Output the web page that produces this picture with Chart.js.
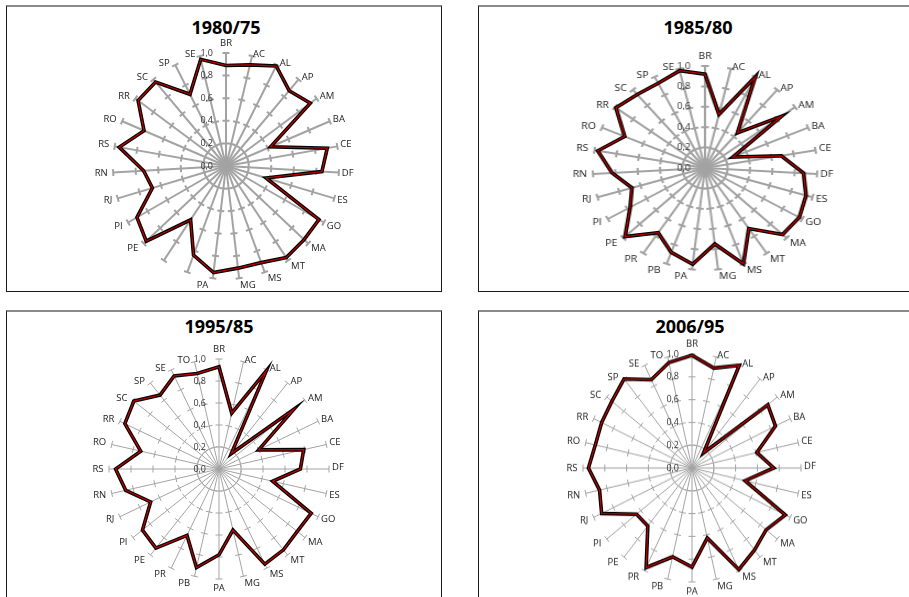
<!DOCTYPE html>
<html>
<head>
<meta charset="utf-8">
<script src="https://cdn.jsdelivr.net/npm/chart.js@4.4.1/dist/chart.umd.min.js"></script>
<style>
  html, body { margin: 0; padding: 0; background: #fff; }
  body { width: 909px; height: 597px; position: relative; overflow: hidden; font-family: "Open Sans", sans-serif; }
  .box { position: absolute; box-sizing: border-box; border: 1px solid #1a1a1a; border-top: 2px solid #8a8a8a; }
  .title { position: absolute; font-weight: 700; font-size: 18px; color: #000; transform: translate(-50%, -50%); white-space: nowrap; }
  canvas { position: absolute; }
</style>
</head>
<body>
<div class="box" style="left:6px;top:5px;width:436px;height:287px"></div>
<div class="box" style="left:478px;top:5px;width:450px;height:287px"></div>
<div class="box" style="left:6px;top:310px;width:436px;height:300px"></div>
<div class="box" style="left:478px;top:310px;width:450px;height:300px"></div>

<div class="title" style="left:226px;top:27px">1980/75</div>
<div class="title" style="left:698px;top:27px">1985/80</div>
<div class="title" style="left:219px;top:326px">1995/85</div>
<div class="title" style="left:690px;top:326px">2006/95</div>

<canvas id="c8075" width="320" height="300"></canvas>
<canvas id="c8580" width="320" height="300"></canvas>
<canvas id="c9585" width="320" height="300"></canvas>
<canvas id="c0695" width="320" height="300"></canvas>

<script>
// states, clockwise from the top
const states27 = ['BR', 'AC', 'AL', 'AP', 'AM', 'BA', 'CE', 'DF', 'ES', 'GO', 'MA', 'MT', 'MS', 'MG',
  'PA', 'PB', 'PR', 'PE', 'PI', 'RJ', 'RN', 'RS', 'RO', 'RR', 'SC', 'SP', 'SE'];
const states28 = ['BR', 'AC', 'AL', 'AP', 'AM', 'BA', 'CE', 'DF', 'ES', 'GO', 'MA', 'MT', 'MS', 'MG',
  'PA', 'PB', 'PR', 'PE', 'PI', 'RJ', 'RN', 'RS', 'RO', 'RR', 'SC', 'SP', 'SE', 'TO'];

const values8075 = [0.89, 0.92, 0.99, 0.87, 0.93, 0.43, 0.91, 0.85, 0.37, 0.95, 0.95, 0.97, 0.91, 0.91,
  0.95, 0.84, 0.57, 0.97, 0.91, 0.68, 0.73, 0.96, 0.79, 0.97, 0.97, 0.71, 0.97];
const values8580 = [0.92, 0.54, 1.0, 0.45, 0.85, 0.27, 0.69, 0.88, 0.94, 0.97, 0.95, 0.71, 1.0, 0.75,
  0.95, 0.88, 0.76, 0.98, 0.77, 0.68, 0.83, 0.97, 0.78, 0.99, 0.94, 0.93, 0.98];
const values9585 = [0.93, 0.52, 0.99, 0.18, 0.87, 0.40, 0.79, 0.74, 0.50, 0.93, 0.91, 0.94, 0.96, 0.57,
  0.78, 0.92, 0.67, 0.92, 0.89, 0.69, 0.87, 0.94, 0.73, 0.95, 0.99, 0.86, 0.94, 0.89];
const values0695 = [0.99, 0.90, 1.0, 0.17, 0.89, 0.85, 0.61, 0.75, 0.50, 0.95, 0.87, 0.92, 0.99, 0.63,
  0.87, 0.80, 0.97, 0.65, 0.65, 0.92, 0.87, 0.95, 0.91, 0.92, 0.94, 1.0, 0.86, 0.95];

const tickValues = [0, 0.2, 0.4, 0.6, 0.8, 1.0];
// labels that don't show on the first chart
const unlabeled8075 = ['PB', 'PR'];

// cross ticks on every spoke, the 0,0..1,0 numbers next to the BR spoke,
// and the state names sitting beside the spoke ends
const spokeTicks = {
  id: 'spokeTicks',
  beforeDatasetsDraw(chart, args, opts) {
    const r = chart.scales.r;
    const ctx = chart.ctx;
    const labels = chart.data.labels;
    ctx.save();
    ctx.strokeStyle = opts.color;
    ctx.lineWidth = opts.width;
    ctx.beginPath();
    labels.forEach((label, i) => {
      const a = r.getIndexAngle(i) - Math.PI / 2;
      const nx = -Math.sin(a), ny = Math.cos(a);
      tickValues.slice(1).forEach(v => {
        const p = r.getPointPositionForValue(i, v);
        ctx.moveTo(p.x - nx * opts.half, p.y - ny * opts.half);
        ctx.lineTo(p.x + nx * opts.half, p.y + ny * opts.half);
      });
    });
    ctx.stroke();

    ctx.fillStyle = '#333';
    ctx.font = '9px "Open Sans"';
    ctx.textAlign = 'right';
    ctx.textBaseline = 'middle';
    tickValues.forEach(v => {
      const y = r.yCenter - r.getDistanceFromCenterForValue(v);
      ctx.fillText(v.toFixed(1).replace('.', ','), r.xCenter - 13, y);
    });

    ctx.fillStyle = '#222';
    ctx.font = '9.5px "Open Sans"';
    ctx.textAlign = 'center';
    const h = 11;
    labels.forEach((label, i) => {
      if ((opts.hidden || []).includes(label)) return;
      const a = r.getIndexAngle(i);
      const s = Math.sin(a), c = Math.cos(a);
      const p = r.getPointPositionForValue(i, tickValues[tickValues.length - 1]);
      const w = ctx.measureText(label).width;
      let x = p.x, y = p.y;
      if (Math.abs(s) < 0.05) {
        y += c > 0 ? -(h / 2 + 4) : (h / 2 + 4);
      } else {
        const steep = Math.abs(s) < 0.3;
        const gap = s > 0 ? (steep ? 1 : 3) : (steep ? 4.5 : 5.5);
        x += Math.sign(s) * (w / 2 + gap);
        y += c > 0 ? -1.8 : -c * 7;
      }
      ctx.fillText(label, x, y);
    });
    ctx.restore();
  }
};

function radar(id, labels, values, spokeWidth, hidden) {
  return new Chart(document.getElementById(id), {
    type: 'radar',
    data: {
      labels: labels,
      datasets: [
        { data: values, borderColor: '#c00000', borderWidth: 1.2, order: 1 },
        { data: values, borderColor: '#000', borderWidth: 3.6, order: 2 }
      ]
    },
    options: {
      responsive: false,
      animation: false,
      layout: { padding: 0 },
      elements: {
        point: { radius: 0, hoverRadius: 0 },
        line: { tension: 0, fill: false, borderJoinStyle: 'miter' }
      },
      plugins: {
        legend: { display: false },
        tooltip: { enabled: false },
        spokeTicks: { color: '#a3a3a3', width: spokeWidth, half: 3.5, hidden: hidden }
      },
      scales: {
        r: {
          min: 0,
          max: 1,
          ticks: { display: false, stepSize: 0.2 },
          grid: { display: false },
          angleLines: { color: '#a3a3a3', lineWidth: spokeWidth },
          pointLabels: { display: false }
        }
      }
    },
    plugins: [spokeTicks]
  });
}

// shrink the padding until the 1,0 ring has the wanted radius, then move the canvas
// so the centre sits where it belongs; sx/sy stretch the plot a little
function place(chart, cx, cy, radius, sx, sy) {
  for (let k = 0; k < 4; k++) {
    const s = chart.scales.r;
    chart.options.layout.padding += s.drawingArea - radius;
    chart.update();
  }
  const s = chart.scales.r;
  const cv = chart.canvas;
  cv.style.left = (cx - s.xCenter) + 'px';
  cv.style.top = (cy - s.yCenter) + 'px';
  cv.style.transformOrigin = s.xCenter + 'px ' + s.yCenter + 'px';
  cv.style.transform = 'scale(' + sx + ',' + sy + ')';
}

place(radar('c8075', states27, values8075, 2, unlabeled8075), 226, 166, 113, 1, 1);
place(radar('c8580', states27, values8580, 2), 705, 168, 102, 1.1, 1);
place(radar('c9585', states28, values9585, 1), 218.5, 469, 110, 1, 1);
place(radar('c0695', states28, values0695, 1), 692, 468, 108.5, 1, 1.045);
</script>
</body>
</html>
